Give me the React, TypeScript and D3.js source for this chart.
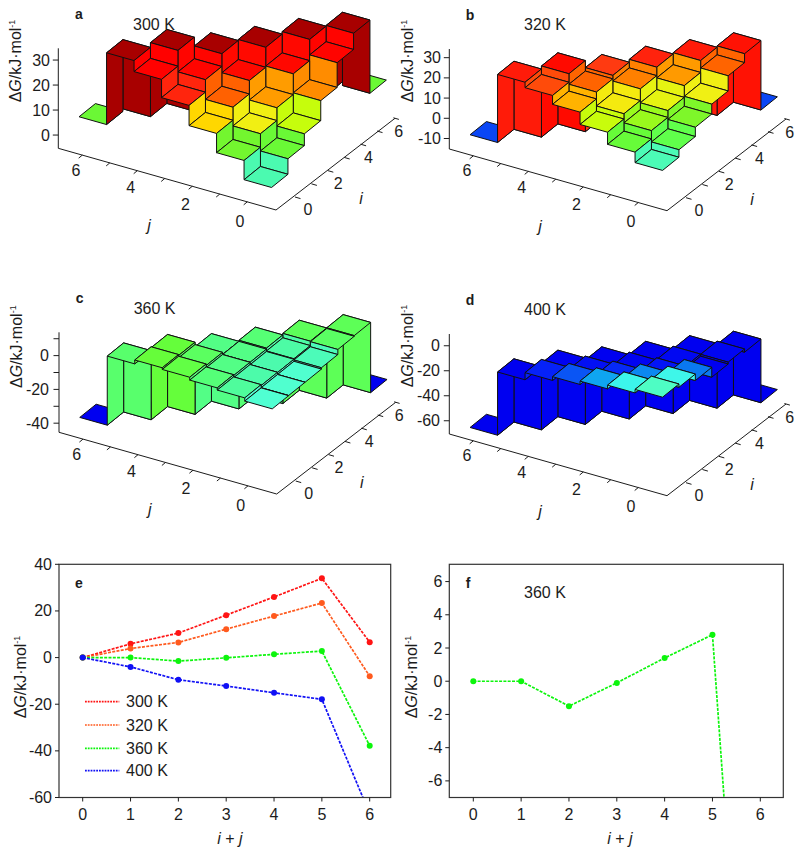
import React from "react";
import * as d3 from "d3";

const FONT = "'Liberation Sans', Arial, sans-serif";
const INK = "#1c1c1c";

// Free-energy grids, one row per i, entries ordered by j = 0 .. 6 - i
const grid300 = [
  [-1.5, 6.2, 13.9, 22, 29.3, 33.7, 5],
  [4.7, 11.6, 19.1, 27, 35.6, 6],
  [9.4, 16.7, 24.5, 32.1, 6],
  [17.4, 25, 32.5, 6],
  [27.3, 33.5, 6],
  [33.8, 6],
  [4.5],
];
const grid320 = [
  [-1.7, 3.5, 9.5, 15.6, 20, 22.7, -11],
  [2, 7.6, 12.1, 19, 24.2, -11],
  [6.6, 11, 17.9, 20.7, -11],
  [11.5, 16.8, 22.1, -11],
  [19, 22.7, -11],
  [23.4, -11],
  [-11],
];
const grid360 = [
  [-2.7, -0.8, 0.5, 2.2, 3.2, 0.9, -40],
  [-2.6, -1.3, 0, 1.3, 2.7, -40],
  [-2.6, -1.4, 0, 0, -40],
  [-1.8, -1.1, 0.6, -40],
  [1.2, 1.5, -40],
  [1.6, -40],
  [-40],
];
const grid400 = [
  [-2.2, -5, -8, -10.7, -13.7, -19.4, -70],
  [-4.8, -9.3, -13.2, -15.4, -16.8, -70],
  [-10, -14.9, -16.6, -18.5, -70],
  [-17.9, -16.2, -18.4, -70],
  [-16.4, -18.2, -70],
  [-19, -70],
  [-70],
];

// Line-plot series over i + j
const sumTicks = [0, 1, 2, 3, 4, 5, 6];
const line300 = [0, 5.9, 10.5, 18.2, 26, 34, 6.6];
const line320 = [0, 3.9, 6.5, 12.2, 17.8, 23.4, -8];
const line360 = [0, 0, -1.5, -0.1, 1.4, 2.8, -37.8];
const line400 = [0, -4, -9.5, -12.2, -15.1, -17.9, -67];
const lineTicksE = [40, 20, 0, -20, -40, -60];
const lineTicksF = [6, 4, 2, 0, -2, -4, -6];

// Shared colour ramp for all surfaces
const rampValues = [-17, -14, -11, -10, -8, -5, -2.7, -1.5, 0.5, 2.5, 6, 9, 11.5, 13.9, 17, 19, 21, 24, 30, 31.5];
const rampColors = [
  "#0000f0", "#051ef8", "#0a46f5", "#0a78f0", "#0fa5f0", "#3cf5eb", "#50ffd2", "#4bfab0", "#55ff78", "#64ff3c",
  "#6ef532", "#beff0a", "#f0f014", "#ffd700", "#ff9600", "#ff6400", "#ff3214", "#ff0a00", "#ff0000", "#a80000",
];
const colorOf = d3.scaleLinear<string>().domain(rampValues).range(rampColors).clamp(true);

const iStep = d3.scaleLinear().domain([0, 1]).range([0, 16.4]);
const iRise = d3.scaleLinear().domain([0, 1]).range([0, -13.2]);
const jStep = d3.scaleLinear().domain([0, 1]).range([0, -27.5]);
const jRise = d3.scaleLinear().domain([0, 1]).range([0, -7.78]);

const pts = (a: number[][]) => a.map((p) => `${p[0].toFixed(2)},${p[1].toFixed(2)}`).join(" ");

function Ylabel({ x, y }: { x: number; y: number }) {
  return (
    <text transform={`translate(${x},${y}) rotate(-90)`} textAnchor="middle" fontSize={16} fill={INK} fontFamily={FONT}>
      Δ<tspan fontStyle="italic">G</tspan>/kJ·mol<tspan fontSize={9} dy={-6}>-1</tspan>
    </text>
  );
}

function Surface({ grid, ox, oy, zFloor, zTop, zTicks, zLabels, title, letter, endX, yLabelY, yLabelX }: any) {
  const zPx = d3.scaleLinear().domain([zFloor, zTop]).range([0, -100]);
  const P = (i: number, j: number, z: number): number[] => [
    ox + 266 + iStep(i) + jStep(j),
    oy + 186.5 + iRise(i) + jRise(j) + zPx(z),
  ];
  const shapes: any[] = [];
  for (let i = 6; i >= 0; i--) {
    for (let j = 6 - i; j >= 0; j--) {
      const z = grid[i][j];
      const c = colorOf(z);
      const nI = grid[i + 1] ? grid[i + 1][j] : undefined;
      const nJ = grid[i][j + 1];
      if (nI !== undefined) {
        shapes.push(
          <polygon key={`wi${i}-${j}`} fill={c}
            points={pts([P(i + 0.5, j - 0.5, z), P(i + 0.5, j + 0.5, z), P(i + 0.5, j + 0.5, nI), P(i + 0.5, j - 0.5, nI)])} />
        );
      }
      if (nJ !== undefined) {
        shapes.push(
          <polygon key={`wj${i}-${j}`} fill={c}
            points={pts([P(i - 0.5, j + 0.5, z), P(i + 0.5, j + 0.5, z), P(i + 0.5, j + 0.5, nJ), P(i - 0.5, j + 0.5, nJ)])} />
        );
      }
      shapes.push(
        <polygon key={`c${i}-${j}`} fill={c}
          points={pts([P(i - 0.5, j - 0.5, z), P(i + 0.5, j - 0.5, z), P(i + 0.5, j + 0.5, z), P(i - 0.5, j + 0.5, z)])} />
      );
    }
  }
  const axLeft = [ox + 58.3, oy + 148.3];
  const axCorner = [ox + 276, oy + 210];
  const axRight = [ox + 395, oy + 118.3];
  const iAt = (i: number) => [ox + 295 + iStep(i), oy + 197 + iRise(i)];
  const jAt = (j: number) => [ox + 247.3 + jStep(j), oy + 201.8 + jRise(j)];
  const labelProps = { fontSize: 16, fill: INK, fontFamily: FONT };
  const zAt = (z: number) => oy + 148.3 + zPx(z);
  return (
    <g>
      <g fill="none" stroke={INK} strokeWidth={1}>
        <polyline points={pts([[axLeft[0], oy + 48.3], axLeft, axCorner, axRight])} />
        {zTicks.map((t: number) => (
          <line key={t} x1={axLeft[0] - 5.5} x2={axLeft[0]} y1={zAt(t)} y2={zAt(t)} />
        ))}
        {d3.range(0, 7).map((k) => (
          <g key={k}>
            <line x1={iAt(k)[0]} y1={iAt(k)[1]} x2={iAt(k)[0] + 5.5} y2={iAt(k)[1] + 1.6} />
            <line x1={jAt(k)[0]} y1={jAt(k)[1]} x2={jAt(k)[0] - 3.6} y2={jAt(k)[1] + 3} />
          </g>
        ))}
      </g>
      <g stroke="#111" strokeWidth={1} strokeLinejoin="round">{shapes}</g>
      {zLabels.map((t: number) => (
        <text key={t} x={endX} y={zAt(t) + 5.5} textAnchor="end" {...labelProps}>{t}</text>
      ))}
      {[0, 2, 4, 6].map((k) => (
        <g key={k}>
          <text x={ox + 240 + k * -27.33} y={oy + 226.5 - 8.5 * k} textAnchor="middle" {...labelProps}>{k}</text>
          <text x={ox + 308 + 15.1 * k} y={oy + 215 - 13 * k} textAnchor="middle" {...labelProps}>{k}</text>
        </g>
      ))}
      <text x={ox + 149} y={oy + 231} textAnchor="middle" fontStyle="italic" {...labelProps}>j</text>
      <text x={ox + 361} y={oy + 204} textAnchor="middle" fontStyle="italic" {...labelProps}>i</text>
      <Ylabel x={yLabelX} y={yLabelY} />
      <text x={ox + 133} y={oy + 29.5} {...labelProps}>{title}</text>
      <text x={ox + 79} y={oy + 19} textAnchor="middle" fontWeight="bold" fontSize={14} fill={INK} fontFamily={FONT}>{letter}</text>
    </g>
  );
}

function LinePlot({ id, left, right, x0, yDomain, series, ticks, letter, letterX, yLabelX, xLabelX, children }: any) {
  const top = 564.3;
  const bottom = 797.5;
  const x = d3.scaleLinear().domain([0, 6]).range([x0, x0 + 287]);
  const y = d3.scaleLinear().domain(yDomain).range([top, bottom]);
  const line = d3.line<number>().x((_, k) => x(k)).y((d) => y(d));
  const labelProps = { fontSize: 16, fill: INK, fontFamily: FONT };
  return (
    <g>
      <defs>
        <clipPath id={id}><rect x={left} y={top} width={right - left} height={bottom - top} /></clipPath>
      </defs>
      <g clipPath={`url(#${id})`}>
        {series.map((s: any) => (
          <g key={s.name}>
            <path d={line(s.values) || ""} fill="none" stroke={s.color} strokeWidth={1.7} strokeDasharray="3 1.3" />
            {s.values.map((v: number, k: number) => (
              <circle key={k} cx={x(k)} cy={y(v)} r={3} fill={s.color} />
            ))}
          </g>
        ))}
      </g>
      <rect x={left} y={top} width={right - left} height={bottom - top} fill="none" stroke="#333" strokeWidth={1.2} />
      {sumTicks.map((t) => (
        <g key={t}>
          <line x1={x(t)} x2={x(t)} y1={bottom} y2={bottom + 4} stroke={INK} />
          <text x={x(t)} y={820} textAnchor="middle" {...labelProps}>{t}</text>
        </g>
      ))}
      {ticks.map((t: number) => (
        <g key={t}>
          <line x1={left - 4} x2={left} y1={y(t)} y2={y(t)} stroke={INK} />
          <text x={left - 7} y={y(t) + 5.5} textAnchor="end" {...labelProps}>{t}</text>
        </g>
      ))}
      <text x={xLabelX} y={844} textAnchor="middle" {...labelProps}>
        <tspan fontStyle="italic">i</tspan> + <tspan fontStyle="italic">j</tspan>
      </text>
      <Ylabel x={yLabelX} y={677} />
      <text x={letterX} y={588} textAnchor="middle" fontWeight="bold" fontSize={14} fill={INK} fontFamily={FONT}>{letter}</text>
      {children}
    </g>
  );
}

const seriesE = [
  { name: "300 K", values: line300, color: "#ff1414" },
  { name: "320 K", values: line320, color: "#ff5a1e" },
  { name: "360 K", values: line360, color: "#0cf50c" },
  { name: "400 K", values: line400, color: "#1010f5" },
];
const seriesF = [{ name: "360 K", values: line360, color: "#0cf50c" }];
const legendY = [701.7, 725, 748.3, 770.7];

export default function App() {
  return (
    <svg width={800} height={853} viewBox="0 0 800 853" style={{ position: "absolute", left: 0, top: 0, background: "#fff" }}>
      <Surface grid={grid300} ox={0} oy={0} zFloor={-5.3} zTop={34.7} zTicks={[0, 10, 20, 30]} zLabels={[0, 10, 20, 30]}
        title="300 K" letter="a" endX={50} yLabelX={21} yLabelY={61} />
      <Surface grid={grid320} ox={391} oy={0.7} zFloor={-15.2} zTop={34.3} zTicks={[-10, 0, 10, 20, 30]} zLabels={[-10, 0, 10, 20, 30]}
        title="320 K" letter="b" endX={441} yLabelX={412.7} yLabelY={61} />
      <Surface grid={grid360} ox={0.7} oy={284} zFloor={-45.4} zTop={13.8} zTicks={[-40, -30, -20, -10, 0, 10]} zLabels={[-40, -20, 0]}
        title="360 K" letter="c" endX={49} yLabelX={21.7} yLabelY={346.7} />
      <Surface grid={grid400} ox={391} oy={285.7} zFloor={-70.6} zTop={9.4} zTicks={[-60, -40, -20, 0]} zLabels={[-60, -40, -20, 0]}
        title="400 K" letter="d" endX={440} yLabelX={412.7} yLabelY={346} />
      <LinePlot id="clipE" left={59} right={390.7} x0={82.7} yDomain={[40, -60]} series={seriesE} ticks={lineTicksE}
        letter="e" letterX={79} yLabelX={26} xLabelX={230}>
        {seriesE.map((s, k) => (
          <g key={s.name}>
            <line x1={85} x2={119.3} y1={legendY[k]} y2={legendY[k]} stroke={s.color} strokeWidth={1.7} strokeDasharray="1.8 1" />
            <text x={126} y={legendY[k] + 5.5} fontSize={16} fill={INK} fontFamily={FONT}>{s.name}</text>
          </g>
        ))}
      </LinePlot>
      <LinePlot id="clipF" left={449.3} right={783.3} x0={473.3} yDomain={[7.04, -7]} series={seriesF} ticks={lineTicksF}
        letter="f" letterX={468} yLabelX={416.7} xLabelX={620}>
        <text x={524} y={598} fontSize={16} fill={INK} fontFamily={FONT}>360 K</text>
      </LinePlot>
    </svg>
  );
}
